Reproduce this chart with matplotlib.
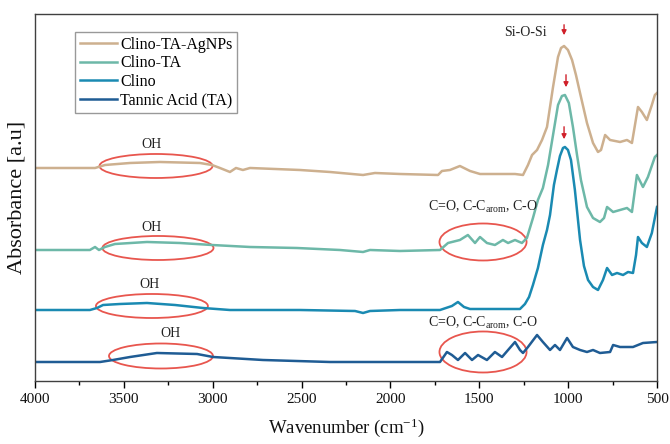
import matplotlib
matplotlib.use("Agg")
import matplotlib.pyplot as plt
from matplotlib.patches import Ellipse

plt.rcParams['font.family'] = ['Liberation Serif', 'DejaVu Serif']
plt.rcParams['mathtext.fontset'] = 'custom'
plt.rcParams['mathtext.rm'] = 'Liberation Serif'
plt.rcParams['mathtext.it'] = 'Liberation Serif:italic'

# ---- data (wavenumber cm-1, offset absorbance a.u.) ----
wn_agnps = [4000, 3662, 3606, 3465, 3297, 3072, 3004, 2959, 2903, 2869, 2830, 2790, 2509, 2340,
            2154, 2087, 1946, 1732, 1710, 1665, 1609, 1552, 1496, 1383, 1299, 1254, 1226, 1203,
            1175, 1147, 1119, 1085, 1057, 1040, 1023, 1001, 978, 956, 933, 894, 860, 832, 815,
            792, 764, 708, 669, 641, 607, 585, 557, 529, 512, 500]
ab_agnps = [213, 213, 216, 218, 219, 218, 216, 213, 209, 213, 211, 213, 211, 209,
            206, 208, 207, 206, 210, 211, 215, 210, 207, 207, 207, 206, 216, 226,
            231, 241, 254, 294, 324, 333, 335, 331, 321, 306, 288, 258, 238, 229, 231,
            246, 241, 239, 241, 238, 274, 269, 261, 276, 286, 288]

wn_clinota = [4000, 3691, 3662, 3640, 3606, 3550, 3370, 3184, 3004, 2790, 2526, 2284, 2154, 2115,
              1946, 1721, 1676, 1609, 1564, 1524, 1496, 1457, 1412, 1367, 1338, 1299, 1260, 1232,
              1198, 1170, 1142, 1113, 1085, 1057, 1035, 1018, 996, 973, 950, 928, 894, 860, 821,
              798, 781, 747, 708, 669, 641, 613, 579, 551, 512, 500]
ab_clinota = [131, 131, 134, 131, 134, 137, 139, 138, 136, 134, 133, 131, 129, 131,
              130, 131, 138, 141, 146, 138, 144, 138, 136, 141, 138, 141, 138, 143,
              163, 181, 193, 216, 246, 276, 285, 286, 278, 254, 226, 201, 174, 163, 159,
              163, 174, 169, 171, 173, 169, 206, 194, 204, 224, 226]

wn_clino = [4000, 3691, 3651, 3617, 3522, 3370, 3212, 3055, 2903, 2509, 2199, 2154, 2115, 1946,
            1721, 1654, 1620, 1586, 1552, 1383, 1271, 1243, 1220, 1198, 1170, 1142, 1119, 1102,
            1080, 1063, 1046, 1029, 1018, 1001, 984, 962, 933, 911, 888, 860, 832, 804, 781,
            753, 725, 691, 663, 635, 618, 607, 585, 557, 529, 500]
ab_clino = [71, 71, 73, 76, 77, 78, 76, 73, 71, 71, 70, 68, 70, 71,
            71, 75, 79, 74, 72, 72, 72, 77, 84, 96, 113, 136, 151, 166,
            196, 211, 225, 233, 234, 231, 221, 191, 141, 115, 101, 94, 91, 101, 113,
            106, 108, 106, 109, 108, 126, 144, 138, 134, 148, 174]

wn_ta = [4000, 3634, 3561, 3465, 3314, 3088, 2998, 2717, 2340, 1946, 1721, 1682, 1654, 1620,
         1580, 1541, 1507, 1457, 1412, 1372, 1338, 1299, 1271, 1254, 1226, 1175, 1142, 1102,
         1074, 1046, 1006, 973, 933, 894, 860, 821, 764, 747, 708, 635, 579, 500]
ab_ta = [19, 19, 21, 24, 28, 27, 24, 21, 19, 19, 19, 29, 26, 21,
         28, 21, 26, 21, 29, 24, 31, 39, 31, 28, 34, 46, 39, 31,
         36, 31, 43, 34, 31, 29, 31, 28, 29, 36, 34, 34, 38, 39]

labels = ["Clino-TA-AgNPs", "Clino-TA", "Clino", "Tannic Acid (TA)"]
colors = ["#CDB08F", "#6DB8A8", "#1A8AB2", "#1F5C94"]

fig = plt.figure(figsize=(6.7, 4.44), dpi=100)
ax = fig.add_axes([0.0522, 0.1419, 0.9284, 0.8266])

series = [(wn_agnps, ab_agnps), (wn_clinota, ab_clinota), (wn_clino, ab_clino), (wn_ta, ab_ta)]
for (w, a), lab, c in zip(series, labels, colors):
    ax.plot(w, a, color=c, lw=1.8, label=lab)

ax.set_xlim(4000, 500)
ax.set_ylim(0, 367)
ax.set_yticks([])
ax.set_xticks([4000, 3500, 3000, 2500, 2000, 1500, 1000, 500])
ax.set_xticks([3750, 3250, 2750, 2250, 1750, 1250, 750], minor=True)
ax.tick_params(axis='x', which='major', direction='out', length=5, width=1, labelsize=11,
               pad=4, labelcolor='#111111')
ax.tick_params(axis='x', which='minor', direction='out', length=3, width=1)
for s in ax.spines.values():
    s.set_color('#404040')
    s.set_linewidth(1.0)

ax.set_xlabel("Wavenumber (cm$^{-1}$)", fontsize=13.5, labelpad=7, color='#111111')
ax.set_ylabel("Absorbance [a.u]", fontsize=16, labelpad=6, color='#111111')

leg = ax.legend(loc='upper left', bbox_to_anchor=(0.052, 0.972), fontsize=11.5, frameon=True,
                fancybox=False, edgecolor='#808080', handlelength=2.3, handletextpad=0.2,
                borderpad=0.3, labelspacing=0.15)
leg.get_frame().set_linewidth(1.0)

red = "#E8564E"
ellipses = [(3319, 215, 636, 24), (3308, 133, 625, 24), (3342, 75, 630, 24), (3291, 25, 585, 25),
            (1479, 139, 490, 37), (1479, 29, 490, 41)]
for cx, cy, ew, eh in ellipses:
    ax.add_patch(Ellipse((cx, cy), ew, eh, fill=False, edgecolor=red, lw=1.3))

for tx, ty in [(3342, 236), (3342, 153), (3353, 96), (3240, 47)]:
    ax.text(tx, ty, "OH", fontsize=10, ha='center', va='center', color='#222222')

for tx, ty in [(1479, 174), (1479, 58)]:
    ax.text(tx, ty, "C=O, C-C$_{\\rm arom}$, C-O", fontsize=10, ha='center', va='center', color='#222222')

ax.text(1243, 348, "Si-O-Si", fontsize=10, ha='center', va='center', color='#222222')

for ax_x, y0, y1 in [(1023, 359, 343), (1012, 309, 291), (1023, 257, 239)]:
    ax.annotate("", xy=(ax_x, y1), xytext=(ax_x, y0),
                arrowprops=dict(arrowstyle='-|>', color='#D0202A', lw=1.0, mutation_scale=7))

fig.savefig("out.png", dpi=100)
